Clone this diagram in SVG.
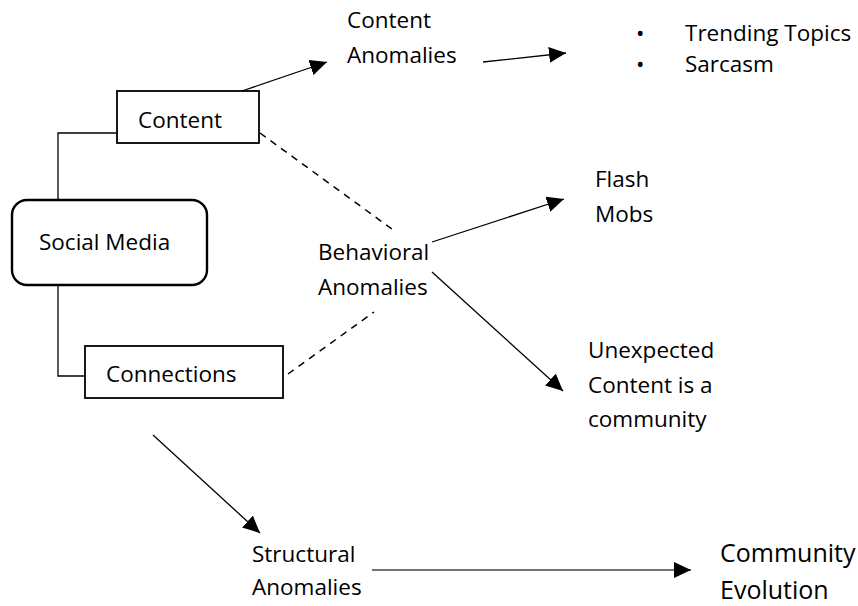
<svg xmlns="http://www.w3.org/2000/svg" width="858" height="606" viewBox="0 0 858 606">
  <style>
    text { font-family: "Open Sans", "Noto Sans", sans-serif; font-size: 22.5px; fill: #000; }
    .big { font-size: 25px; }
    .box { fill: #fff; stroke: #000; stroke-width: 1.8; }
    .link { fill: none; stroke: #000; stroke-width: 1.3; }
    .dash { fill: none; stroke: #000; stroke-width: 1.5; stroke-dasharray: 7 6; }
    .arrow { fill: none; stroke: #000; stroke-width: 1.3; marker-end: url(#head); }
  </style>
  <defs>
    <marker id="head" markerUnits="userSpaceOnUse" markerWidth="19" markerHeight="16" refX="17" refY="8" orient="auto">
      <path d="M0,0 L17,8 L0,16 Z" fill="#000"/>
    </marker>
  </defs>
  <rect width="858" height="606" fill="#fff"/>

  <g id="connectors">
    <!-- tree lines from the root -->
    <polyline class="link" points="58,200 58,133 117,133"/>
    <polyline class="link" points="58,285 58,376 85,376"/>
    <!-- dashed links to behavioral anomalies -->
    <line class="dash" x1="260" y1="133" x2="396" y2="232"/>
    <line class="dash" x1="288" y1="374" x2="374" y2="312"/>
    <!-- arrows -->
    <line class="arrow" x1="242" y1="91" x2="327" y2="62"/>
    <line class="arrow" x1="483" y1="62" x2="566" y2="53"/>
    <line class="arrow" x1="432" y1="242" x2="564" y2="199"/>
    <line class="arrow" x1="432" y1="272" x2="563" y2="391"/>
    <line class="arrow" x1="153" y1="435" x2="260" y2="533"/>
    <line class="arrow" x1="372" y1="570" x2="691" y2="570" style="stroke:#444"/>
  </g>

  <g id="social-media">
    <rect x="12" y="200" width="195" height="85" rx="15" ry="15" class="box" style="stroke-width:2.4"/>
    <text x="39" y="250">Social Media</text>
  </g>

  <g id="content">
    <rect x="117" y="91" width="142" height="52" class="box"/>
    <text x="138" y="128">Content</text>
  </g>

  <g id="connections">
    <rect x="85" y="346" width="198" height="52" class="box"/>
    <text x="106" y="382">Connections</text>
  </g>

  <g id="content-anomalies">
    <text x="347" y="28">Content</text>
    <text x="347" y="63">Anomalies</text>
  </g>

  <g id="content-examples">
    <text x="636" y="41">•</text>
    <text x="685" y="41">Trending Topics</text>
    <text x="636" y="72">•</text>
    <text x="685" y="72">Sarcasm</text>
  </g>

  <g id="behavioral-anomalies">
    <text x="318" y="260">Behavioral</text>
    <text x="318" y="295">Anomalies</text>
  </g>

  <g id="flash-mobs">
    <text x="595" y="187">Flash</text>
    <text x="595" y="222">Mobs</text>
  </g>

  <g id="unexpected-content">
    <text x="588" y="358">Unexpected</text>
    <text x="588" y="393">Content is a</text>
    <text x="588" y="427">community</text>
  </g>

  <g id="structural-anomalies">
    <text x="252" y="562">Structural</text>
    <text x="252" y="595">Anomalies</text>
  </g>

  <g id="community-evolution">
    <text x="720" y="562" class="big">Community</text>
    <text x="720" y="599" class="big">Evolution</text>
  </g>
</svg>
